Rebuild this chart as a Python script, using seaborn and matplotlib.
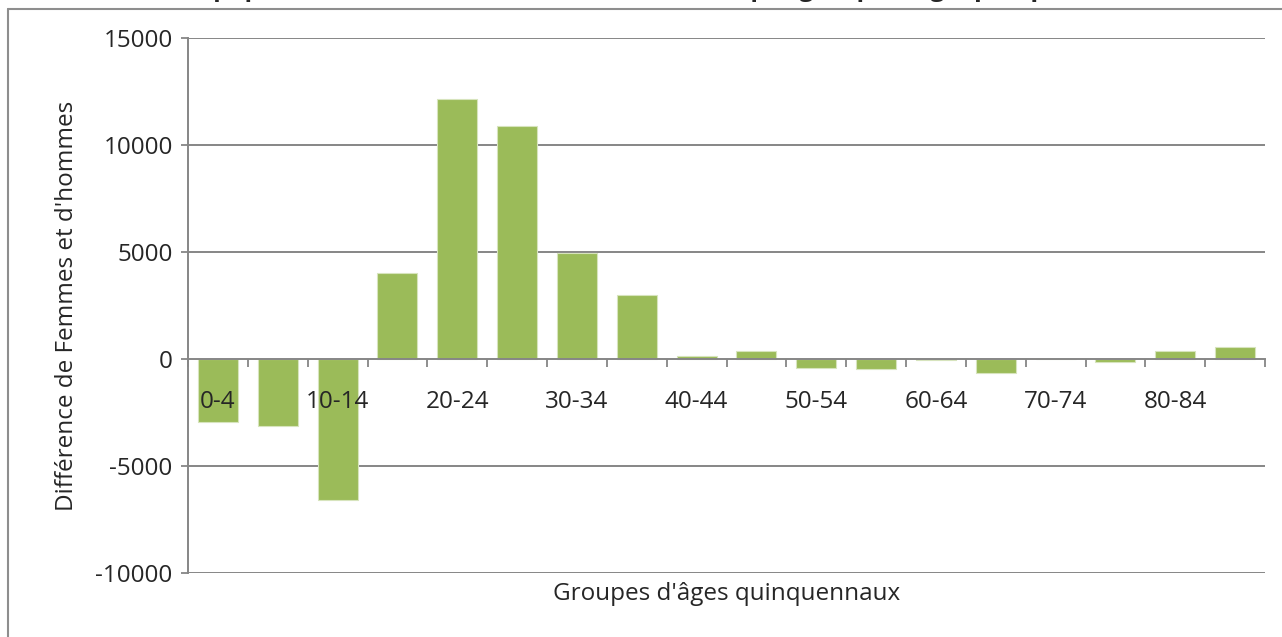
import matplotlib
matplotlib.use("Agg")
import matplotlib.pyplot as plt
import seaborn as sns
import pandas as pd
from matplotlib.lines import Line2D

# data
age_groups = ["0-4", "5-9", "10-14", "15-19", "20-24", "25-29", "30-34", "35-39",
              "40-44", "45-49", "50-54", "55-59", "60-64", "65-69", "70-74",
              "75-79", "80-84", "85+"]
difference = [-2960, -3130, -6590, 4020, 12150, 10900, 4950, 3000,
              150, 370, -420, -480, -40, -670, 10, -150, 370, 560]
shown_labels = ["0-4", "", "10-14", "", "20-24", "", "30-34", "", "40-44", "",
                "50-54", "", "60-64", "", "70-74", "", "80-84", ""]
y_ticks = [-10000, -5000, 0, 5000, 10000, 15000]

df = pd.DataFrame({"Groupe": age_groups, "Diff": difference})

sns.set_style("white")
plt.rcParams['font.family'] = ['Open Sans', 'DejaVu Sans']
plt.rcParams['axes.unicode_minus'] = False

fs = 17.5
fig = plt.figure(figsize=(12.82, 6.37), dpi=100)
ax = fig.add_axes([188/1282, 1 - 573/637, (1265 - 188)/1282, (573 - 38)/637])

grid_col = '#868686'
green = '#9BBB59'

ax.set_ylim(-10000, 15000)
ax.set_yticks(y_ticks)
for v in y_ticks:
    if v != 0:
        ax.axhline(v, color=grid_col, linewidth=1.4, zorder=0)

sns.barplot(data=df, x="Groupe", y="Diff", color=green, width=0.67,
            edgecolor='#D7E4BD', linewidth=0.8, saturation=1, ax=ax, zorder=2)
ax.set_xlim(-0.5, len(age_groups) - 0.5)
ax.set_axisbelow(False)
ax.xaxis.set_zorder(4)

# zero line acts as category axis
for s in ['top', 'right']:
    ax.spines[s].set_visible(False)
ax.spines['bottom'].set_position(('data', 0))
ax.spines['bottom'].set_color(grid_col)
ax.spines['bottom'].set_linewidth(1.4)
ax.spines['bottom'].set_zorder(3)
ax.spines['left'].set_color(grid_col)
ax.spines['left'].set_linewidth(1.4)

# major ticks at boundaries, labels on minor ticks at centres
n = len(age_groups)
ax.set_xticks([i + 0.5 for i in range(-1, n)])
ax.set_xticklabels([])
ax.set_xticks(range(n), minor=True)
ax.set_xticklabels(shown_labels, minor=True, fontsize=fs)
ax.tick_params(axis='x', which='major', bottom=True, length=6, width=1.3,
               color=grid_col, direction='out')
ax.tick_params(axis='x', which='minor', bottom=True, length=0, pad=22)
ax.tick_params(axis='y', left=True, length=5, width=1.3, color=grid_col,
               labelsize=fs, pad=6)

ax.set_xlabel("")
ax.set_ylabel("Différence de Femmes et d'hommes", fontsize=fs, labelpad=12)
ax.text(0.5, -0.04, "Groupes d'âges quinquennaux", transform=ax.transAxes,
        ha='center', va='center', fontsize=fs)

# outer chart frame (right and bottom edges fall outside the picture)
fig.add_artist(Line2D([7.5/1282, 1.0], [1 - 8.5/637, 1 - 8.5/637],
                      transform=fig.transFigure, color='#8E8E8E', linewidth=1.5))
fig.add_artist(Line2D([7.5/1282, 7.5/1282], [0, 1 - 8.5/637],
                      transform=fig.transFigure, color='#8E8E8E', linewidth=1.5))

# title mostly cut off above the picture
fig.text(0.48, 1 + 4/637, "Écart de population entre femmes et hommes (F-H) par groupe d'âge quinquennal",
         ha='center', va='baseline', fontsize=18, fontweight='bold')

plt.savefig('out.png', dpi=100)
